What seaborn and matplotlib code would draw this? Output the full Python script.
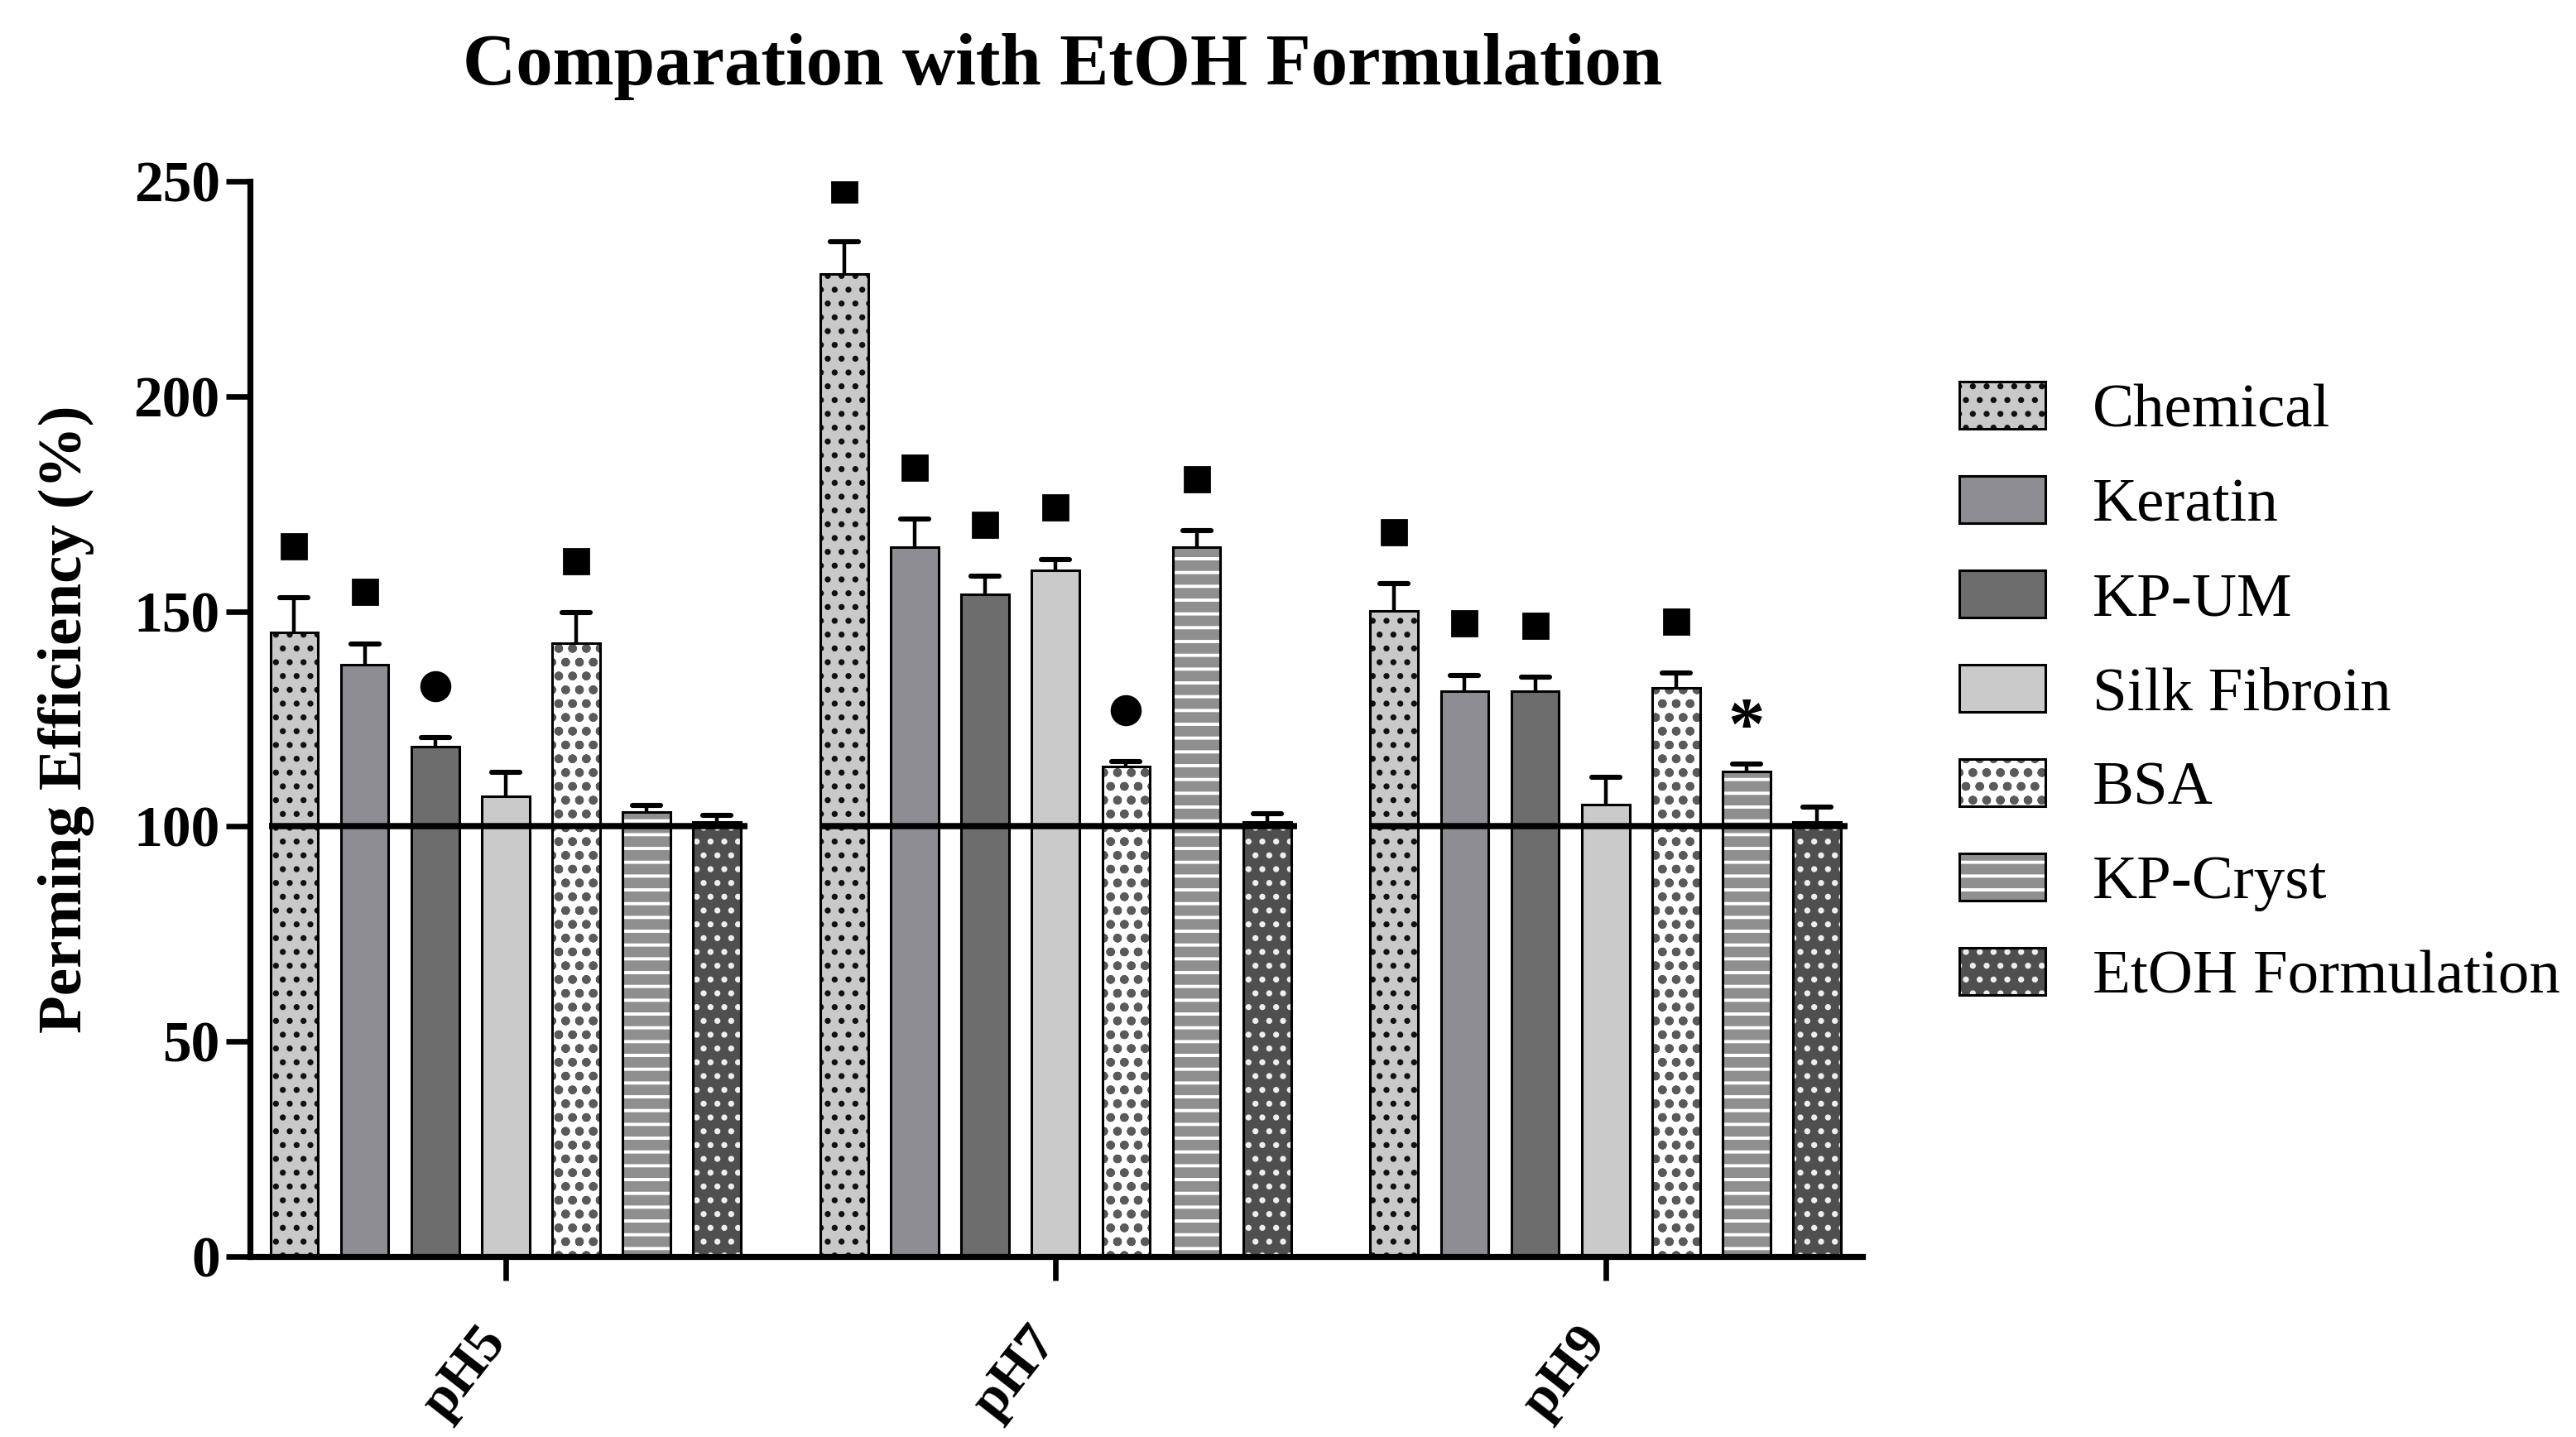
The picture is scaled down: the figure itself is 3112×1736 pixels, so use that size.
import numpy as np
import pandas as pd
import matplotlib
matplotlib.use('Agg')
import matplotlib.pyplot as plt
import matplotlib.transforms as mtransforms
from matplotlib.patches import Patch
from matplotlib.markers import MarkerStyle
from matplotlib.colors import to_rgba
import seaborn as sns

# data
ph_levels = ['pH5', 'pH7', 'pH9']
samples = ['Chemical', 'Keratin', 'KP-UM', 'Silk Fibroin', 'BSA', 'KP-Cryst', 'EtOH Formulation']

# mean perming efficiency (%), one list per pH, in sample order
mean_ph5 = [145.2, 137.6, 118.5, 107.0, 142.6, 103.4, 101.0]
mean_ph7 = [228.5, 165.0, 154.0, 159.5, 114.0, 165.0, 101.0]
mean_ph9 = [150.2, 131.5, 131.5, 105.0, 132.3, 112.8, 101.0]

# upper error bars
err_ph5 = [8.0, 4.9, 2.1, 5.5, 7.1, 1.5, 1.5]
err_ph7 = [7.5, 6.5, 4.2, 2.6, 1.0, 3.7, 2.0]
err_ph9 = [6.3, 3.7, 3.2, 6.5, 3.3, 1.7, 3.5]

# significance symbols drawn above the bars
sig_ph5 = ['s', 's', 'o', '', 's', '', '']
sig_ph7 = ['s', 's', 's', 's', 'o', 's', '']
sig_ph9 = ['s', 's', 's', '', 's', '*', '']

reference_level = 100
y_ticks = [0, 50, 100, 150, 200, 250]

# bar styles (greyscale with hatch patterns)
face_colors = ['#c9c9c9', '#8e8d93', '#6d6d6d', '#cacaca', '#ffffff', '#8f8f8f', '#4f4f4f']
hatches = ['..', '', '', '', 'oo..', '--', '..']
hatch_colors = ['#111111', 'black', 'black', 'black', '#5a5a5a', '#ffffff', '#eeeeee']
sig_offset = 12

df = pd.DataFrame({
    'pH': np.repeat(ph_levels, len(samples)),
    'sample': samples * len(ph_levels),
    'value': mean_ph5 + mean_ph7 + mean_ph9,
    'err': err_ph5 + err_ph7 + err_ph9,
    'sig': sig_ph5 + sig_ph7 + sig_ph9,
})


def set_hatch_color(patch, color):
    if hasattr(patch, 'set_hatchcolor'):
        patch.set_hatchcolor(color)
    else:
        patch._hatch_color = to_rgba(color)


sns.set_style('ticks')
plt.rcParams['font.family'] = ['Liberation Serif', 'DejaVu Serif']
plt.rcParams['hatch.linewidth'] = 1.4
for key in ['text.color', 'axes.labelcolor', 'axes.edgecolor', 'xtick.color', 'ytick.color']:
    plt.rcParams[key] = 'black'

fig = plt.figure(figsize=(15.56, 8.68), dpi=200)
ax = fig.add_axes([0.097, 0.1256, 0.626, 0.7482])

sns.barplot(data=df, x='pH', y='value', hue='sample', order=ph_levels, hue_order=samples,
            palette=dict(zip(samples, face_colors)), saturation=1, width=0.897, gap=0.323,
            errorbar=None, edgecolor='black', linewidth=1.1, legend=False, ax=ax)

# bars sorted left to right follow the row order of df
bars = sorted(ax.patches, key=lambda p: p.get_x())
for i, p in enumerate(bars):
    k = i % len(samples)
    p.set_hatch(hatches[k])
    set_hatch_color(p, hatch_colors[k])

xs = np.array([p.get_x() + p.get_width() / 2 for p in bars])
tops = np.array([p.get_height() for p in bars])
errs = df['err'].to_numpy()

# 100% reference line across each group
n = len(samples)
for g in range(len(ph_levels)):
    grp = bars[g * n:(g + 1) * n]
    x0 = grp[0].get_x()
    x1 = grp[-1].get_x() + grp[-1].get_width()
    ax.hlines(reference_level, x0 - 0.002, x1 + 0.012, colors='black', lw=2.7, zorder=3)

# one-sided error bars
ax.vlines(xs, tops, tops + errs, colors='black', lw=1.6, zorder=4)
ax.plot(xs, tops + errs, ls='none', marker=MarkerStyle('_', capstyle='round'),
        ms=12.5, mew=2.2, color='black', zorder=4)

# significance marks
for x, y, s in zip(xs, tops + errs + sig_offset, df['sig']):
    if s == 's':
        ax.plot(x, y, marker='s', ms=10.5, color='black', ls='none', zorder=5)
    elif s == 'o':
        ax.plot(x, y, marker='o', ms=12.5, color='black', ls='none', zorder=5)
    elif s == '*':
        ax.annotate('*', (x, y), xytext=(0, -0.48 * 32), textcoords='offset points',
                    ha='center', va='baseline', fontsize=32, fontweight='bold')

ax.set_xlim(-0.465, 2.467)
ax.set_ylim(0, 250)
ax.set_yticks(y_ticks)
sns.despine(ax=ax)
for s in ['left', 'bottom']:
    ax.spines[s].set_linewidth(2.6)
ax.tick_params(axis='both', direction='out', length=10.5, width=2.4, colors='black')
ax.tick_params(axis='y', pad=2.5, labelsize=25)
ax.tick_params(axis='x', pad=23, labelsize=24)
plt.setp(ax.get_yticklabels(), fontweight='bold')
shift = mtransforms.ScaledTranslation(-4 / 72, 0, fig.dpi_scale_trans)
for lab in ax.get_xticklabels():
    lab.set_fontweight('bold')
    lab.set_rotation(52)
    lab.set_ha('right')
    lab.set_va('center')
    lab.set_rotation_mode('anchor')
    lab.set_transform(lab.get_transform() + shift)
ax.set_xlabel('')
ax.set_ylabel('Perming Efficiency (%)', fontsize=27, fontweight='bold', labelpad=17)

fig.text(0.4126, 0.9414, 'Comparation with EtOH Formulation', ha='center', va='baseline',
         fontsize=32, fontweight='bold')

handles = []
for k, name in enumerate(samples):
    h = Patch(facecolor=face_colors[k], edgecolor='black', hatch=hatches[k], linewidth=1.1, label=name)
    set_hatch_color(h, hatch_colors[k])
    handles.append(h)
fig.legend(handles=handles, loc='center left', bbox_to_anchor=(0.7606, 0.5173), frameon=False,
           fontsize=27, handlelength=1.39, handleheight=0.79, handletextpad=0.76,
           labelspacing=0.58, borderpad=0, borderaxespad=0)

fig.savefig('out.png', dpi=200)
